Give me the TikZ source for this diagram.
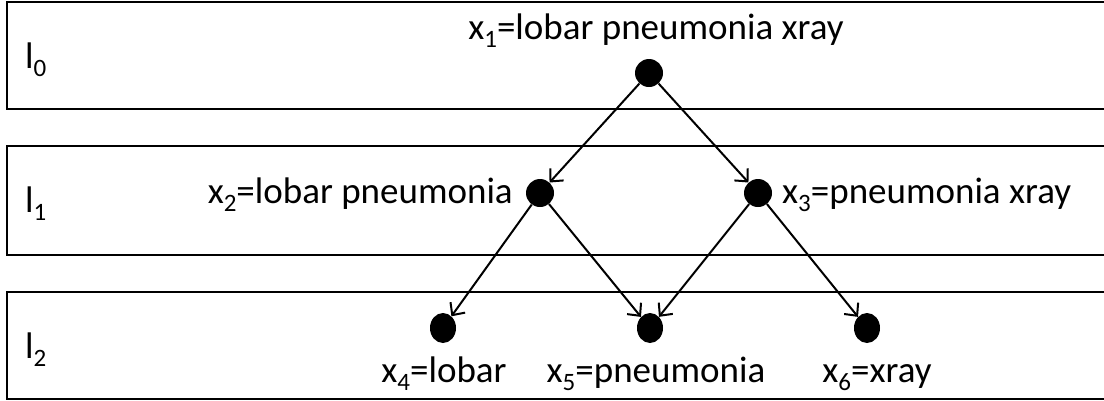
\documentclass[tikz,border=0pt]{standalone}
\usepackage{fontspec}
\setmainfont{Carlito}
\usetikzlibrary{arrows.meta,shapes.geometric}
\newcommand{\subx}[1]{\raisebox{-8pt}{\fontsize{25}{25}\selectfont #1}}
\tikzset{
  layerbox/.style={draw, line width=2.5pt},
  vdot/.style={circle, fill, inner sep=0pt, minimum size=28pt},
  flatdot/.style={ellipse, fill, inner sep=0pt, minimum width=26pt, minimum height=30pt},
  lbl/.style={inner sep=0pt, font=\fontsize{37}{44}\selectfont},
  link/.style={-{Straight Barb[length=9.5pt,width=18pt]}, line width=2pt}
}
\begin{document}
\begin{tikzpicture}[x=1pt, y=-1pt]
  \useasboundingbox (0,0) rectangle (1104,400);
  \clip (0,0) rectangle (1104,400);
  % Layers
  \draw[layerbox] (7,2) rectangle (1120,109);
  \draw[layerbox] (7,146) rectangle (1120,255);
  \draw[layerbox] (7,292) rectangle (1120,399);
  \node[lbl, anchor=base west] (l0) at (25,68) {l\subx{0}};
  \node[lbl, anchor=base west] (l1) at (25,212) {l\subx{1}};
  \node[lbl, anchor=base west] (l2) at (25,358) {l\subx{2}};
  % Nodes
  \node[vdot] (x1) at (649,73) {};
  \node[vdot] (x2) at (540,193) {};
  \node[vdot] (x3) at (758,193) {};
  \node[flatdot] (x4) at (443,328) {};
  \node[flatdot] (x5) at (650,328) {};
  \node[flatdot] (x6) at (867,328) {};
  % Labels
  \node[lbl, anchor=base] (t1) at (656,39) {x\subx{1}=lobar pneumonia xray};
  \node[lbl, anchor=base east] (t2) at (513,203) {x\subx{2}=lobar pneumonia};
  \node[lbl, anchor=base west] (t3) at (782,203) {x\subx{3}=pneumonia xray};
  \node[lbl, anchor=base] (t4) at (444,382) {x\subx{4}=lobar};
  \node[lbl, anchor=base] (t5) at (656,382) {x\subx{5}=pneumonia};
  \node[lbl, anchor=base] (t6) at (877,382) {x\subx{6}=xray};
  % Edges
  \draw[link] (x1) -- (x2);
  \draw[link] (x1) -- (x3);
  \draw[link] (x2) -- (x4);
  \draw[link] (x2) -- (x5);
  \draw[link] (x3) -- (x5);
  \draw[link] (x3) -- (x6);
\end{tikzpicture}
\end{document}
